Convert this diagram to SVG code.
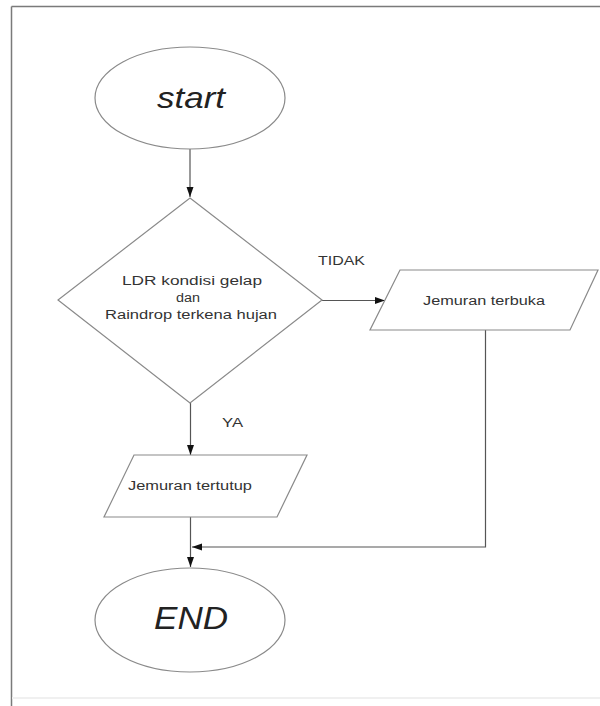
<svg xmlns="http://www.w3.org/2000/svg" width="600" height="706" viewBox="0 0 600 706">
<defs>
<style>
.shape{fill:#fff;stroke:#8a8a8a;stroke-width:1.2}
.conn{fill:none;stroke:#555;stroke-width:1.2}
.lbl{font-family:"Liberation Sans",Arial,sans-serif;font-size:12.5px;fill:#333;text-anchor:middle}
.term{font-family:"Liberation Sans",Arial,sans-serif;font-style:italic;fill:#222;text-anchor:middle}
</style>
<marker id="arr" viewBox="0 0 10 10" refX="10" refY="5" markerWidth="10" markerHeight="10" markerUnits="userSpaceOnUse" orient="auto">
<path d="M0,1.5 L10,5 L0,8.5 Z" fill="#111"/>
</marker>
</defs>
<rect x="0" y="0" width="600" height="706" fill="#fff"/>
<g id="frame">
<line x1="11.5" y1="6.5" x2="600" y2="6.5" stroke="#7a7a7a" stroke-width="1.5"/>
<line x1="11.5" y1="6.5" x2="11.5" y2="706" stroke="#7a7a7a" stroke-width="1.5"/>
<line x1="12" y1="698" x2="600" y2="698" stroke="#f0f0f0" stroke-width="2"/>
</g>
<g id="connectors">
<line class="conn" x1="190" y1="149" x2="190" y2="197" marker-end="url(#arr)"/>
<line class="conn" x1="322" y1="300.5" x2="385" y2="300.5" marker-end="url(#arr)"/>
<line class="conn" x1="190.5" y1="403" x2="190.5" y2="455" marker-end="url(#arr)"/>
<line class="conn" x1="190.5" y1="517" x2="190.5" y2="567" marker-end="url(#arr)"/>
<polyline class="conn" points="485.5,330 485.5,547 192,547" marker-end="url(#arr)"/>
<text class="lbl" x="341.5" y="265" textLength="47" lengthAdjust="spacingAndGlyphs">TIDAK</text>
<text class="lbl" x="232.5" y="427" textLength="21" lengthAdjust="spacingAndGlyphs">YA</text>
</g>
<g id="start">
<ellipse class="shape" cx="190" cy="98" rx="95" ry="51"/>
<text class="term" x="191" y="108" font-size="30" textLength="68" lengthAdjust="spacingAndGlyphs">start</text>
</g>
<g id="decision">
<polygon class="shape" points="190,198 322,300 190,403 58,300"/>
<text class="lbl" x="192" y="285" textLength="140" lengthAdjust="spacingAndGlyphs">LDR kondisi gelap</text>
<text class="lbl" x="188" y="302" textLength="24" lengthAdjust="spacingAndGlyphs">dan</text>
<text class="lbl" x="191" y="319" textLength="172" lengthAdjust="spacingAndGlyphs">Raindrop terkena hujan</text>
</g>
<g id="terbuka">
<polygon class="shape" points="400,270 598,270 570,330 370,330"/>
<text class="lbl" x="484" y="305" textLength="122" lengthAdjust="spacingAndGlyphs">Jemuran terbuka</text>
</g>
<g id="tertutup">
<polygon class="shape" points="134,455 307,455 277,517 104,517"/>
<text class="lbl" x="190" y="490" textLength="124" lengthAdjust="spacingAndGlyphs">Jemuran tertutup</text>
</g>
<g id="end">
<ellipse class="shape" cx="190" cy="620" rx="95" ry="52"/>
<text class="term" x="191" y="629" font-size="32" textLength="74" lengthAdjust="spacingAndGlyphs">END</text>
</g>
</svg>
